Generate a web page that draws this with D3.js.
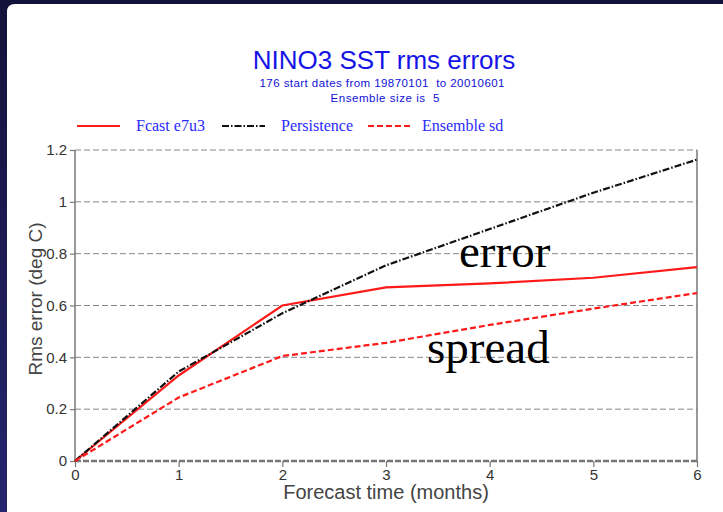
<!DOCTYPE html>
<html>
<head>
<meta charset="utf-8">
<script src="https://cdn.jsdelivr.net/npm/d3@7"></script>
<style>
  body { margin: 0; background: #14143c; }
  svg { display: block; }
  .tick-label { font-family: "Liberation Sans", Arial, sans-serif; font-size: 15px; fill: #333; }
  .axis-title { font-family: "Liberation Sans", Arial, sans-serif; fill: #444; }
  .grid-line { stroke: #888; stroke-width: 1; stroke-dasharray: 6,3; }
  .legend-text { font-family: "Liberation Serif", "Times New Roman", serif; font-size: 16px; fill: #2a2aff; }
  .note { font-family: "Liberation Serif", "Times New Roman", serif; font-size: 47px; fill: #000; }
</style>
</head>
<body>
<div id="chart"></div>
<script>

// data
var months = [0, 1, 2, 3, 4, 5, 6];
var fcast = [0, 0.33, 0.60, 0.67, 0.685, 0.707, 0.748];
var persistence = [0, 0.345, 0.57, 0.755, 0.895, 1.035, 1.163];
var ensembleSd = [0, 0.245, 0.405, 0.456, 0.525, 0.588, 0.648];
var yTicks = [0, 0.2, 0.4, 0.6, 0.8, 1, 1.2];

var series = [
    {name: "Fcast e7u3", values: fcast, color: "#ff1a1a", dash: null},
    {name: "Persistence", values: persistence, color: "#111", dash: "7,2,1.5,2"},
    {name: "Ensemble sd", values: ensembleSd, color: "#ff1a1a", dash: "6,3"}
];

var W = 723, H = 512;
var margin = {top: 150, right: 26, bottom: 51, left: 75};
var width = W - margin.left - margin.right,
    height = H - margin.top - margin.bottom;

var svg = d3.select("#chart").append("svg")
    .attr("width", W)
    .attr("height", H);

// slide background: navy frame, left strip fading lighter toward the bottom
var grad = svg.append("defs").append("linearGradient")
    .attr("id", "strip")
    .attr("x1", 0).attr("y1", 0).attr("x2", 0).attr("y2", 1);
grad.append("stop").attr("offset", "0%").attr("stop-color", "#13123a");
grad.append("stop").attr("offset", "100%").attr("stop-color", "#25256f");

svg.append("rect").attr("width", W).attr("height", H).attr("fill", "url(#strip)");
svg.append("rect").attr("width", W).attr("height", 4).attr("fill", "#13123a");

svg.append("path")
    .attr("d", "M7,12 Q7,4 15,4 L" + W + ",4 L" + W + "," + H + " L7," + H + " Z")
    .attr("fill", "#fff");

// titles
svg.append("text")
    .attr("x", 384).attr("y", 69)
    .attr("text-anchor", "middle")
    .style("font-family", "'Liberation Sans', Arial, sans-serif")
    .style("font-size", "26px")
    .attr("fill", "#1414e6")
    .text("NINO3 SST rms errors");

svg.append("text")
    .attr("x", 382).attr("y", 87)
    .attr("text-anchor", "middle")
    .style("font-family", "'Liberation Sans', Arial, sans-serif")
    .style("font-size", "11.5px")
    .attr("fill", "#1010d8")
    .attr("textLength", 245)
    .attr("xml:space", "preserve")
    .text("176 start dates from 19870101  to 20010601");

svg.append("text")
    .attr("x", 385).attr("y", 102)
    .attr("text-anchor", "middle")
    .style("font-family", "'Liberation Sans', Arial, sans-serif")
    .style("font-size", "11.5px")
    .attr("fill", "#1010d8")
    .attr("textLength", 109)
    .attr("xml:space", "preserve")
    .text("Ensemble size is  5");

// legend
var legendX = [77, 222, 368];
var legend = svg.selectAll(".legend")
    .data(series)
    .enter().append("g")
    .attr("class", "legend")
    .attr("transform", function(d, i) { return "translate(" + legendX[i] + ",126)"; });
legend.append("line")
    .attr("x1", 0).attr("x2", 43)
    .attr("stroke", function(d) { return d.color; })
    .attr("stroke-width", 2)
    .attr("stroke-dasharray", function(d) { return d.dash; });
legend.append("text")
    .attr("class", "legend-text")
    .attr("x", function(d, i) { return i == 2 ? 54 : 59; })
    .attr("y", 5)
    .text(function(d) { return d.name; });

var g = svg.append("g")
    .attr("transform", "translate(" + margin.left + "," + margin.top + ")");

// scales
var x = d3.scaleLinear().domain([0, 6]).range([0, width]);
var y = d3.scaleLinear().domain([0, 1.2]).range([height, 0]);

// grid
g.selectAll(".grid-line")
    .data(yTicks.filter(function(d) { return d > 0; }))
    .enter().append("line")
    .attr("class", "grid-line")
    .attr("x1", 0).attr("x2", width)
    .attr("y1", function(d) { return y(d); })
    .attr("y2", function(d) { return y(d); });

// axes
var yAxis = d3.axisLeft(y).tickValues(yTicks).tickSize(5).tickPadding(3)
    .tickFormat(function(d) { return d3.format("")(+d.toFixed(1)); });
var xAxis = d3.axisBottom(x).tickValues(months).tickSize(6).tickPadding(2)
    .tickFormat(d3.format("d"));

var yG = g.append("g").call(yAxis);
var xG = g.append("g").attr("transform", "translate(0," + height + ")").call(xAxis);
[yG, xG].forEach(function(a) {
    a.select(".domain").remove();
    a.selectAll(".tick line").attr("stroke", "#777").attr("stroke-width", 1.2);
    a.selectAll(".tick text").attr("class", "tick-label").attr("fill", null);
});

// frame: solid sides, thick dashed baseline
g.append("line").attr("x1", 0).attr("x2", 0).attr("y1", 0).attr("y2", height)
    .attr("stroke", "#777").attr("stroke-width", 1.5);
g.append("line").attr("x1", width).attr("x2", width).attr("y1", 0).attr("y2", height)
    .attr("stroke", "#777").attr("stroke-width", 1.5);
g.append("line").attr("x1", 0).attr("x2", width).attr("y1", y(0)).attr("y2", y(0))
    .attr("stroke", "#777").attr("stroke-width", 2.5).attr("stroke-dasharray", "6,2");

// lines
var line = d3.line()
    .x(function(d, i) { return x(months[i]); })
    .y(function(d) { return y(d); });

g.selectAll(".series")
    .data(series)
    .enter().append("path")
    .attr("class", "series")
    .attr("fill", "none")
    .attr("stroke", function(d) { return d.color; })
    .attr("stroke-width", 2.2)
    .attr("stroke-dasharray", function(d) { return d.dash; })
    .attr("d", function(d) { return line(d.values); });

// axis titles
svg.append("text")
    .attr("class", "axis-title")
    .attr("x", 386).attr("y", 499)
    .attr("text-anchor", "middle")
    .style("font-size", "20px")
    .text("Forecast time (months)");

svg.append("text")
    .attr("class", "axis-title")
    .attr("transform", "translate(42,299) rotate(-90)")
    .attr("text-anchor", "middle")
    .style("font-size", "19px")
    .text("Rms error (deg C)");

// annotations
svg.append("text").attr("class", "note").attr("x", 459).attr("y", 267).text("error");
svg.append("text").attr("class", "note").attr("x", 427).attr("y", 363).text("spread");

</script>
</body>
</html>
